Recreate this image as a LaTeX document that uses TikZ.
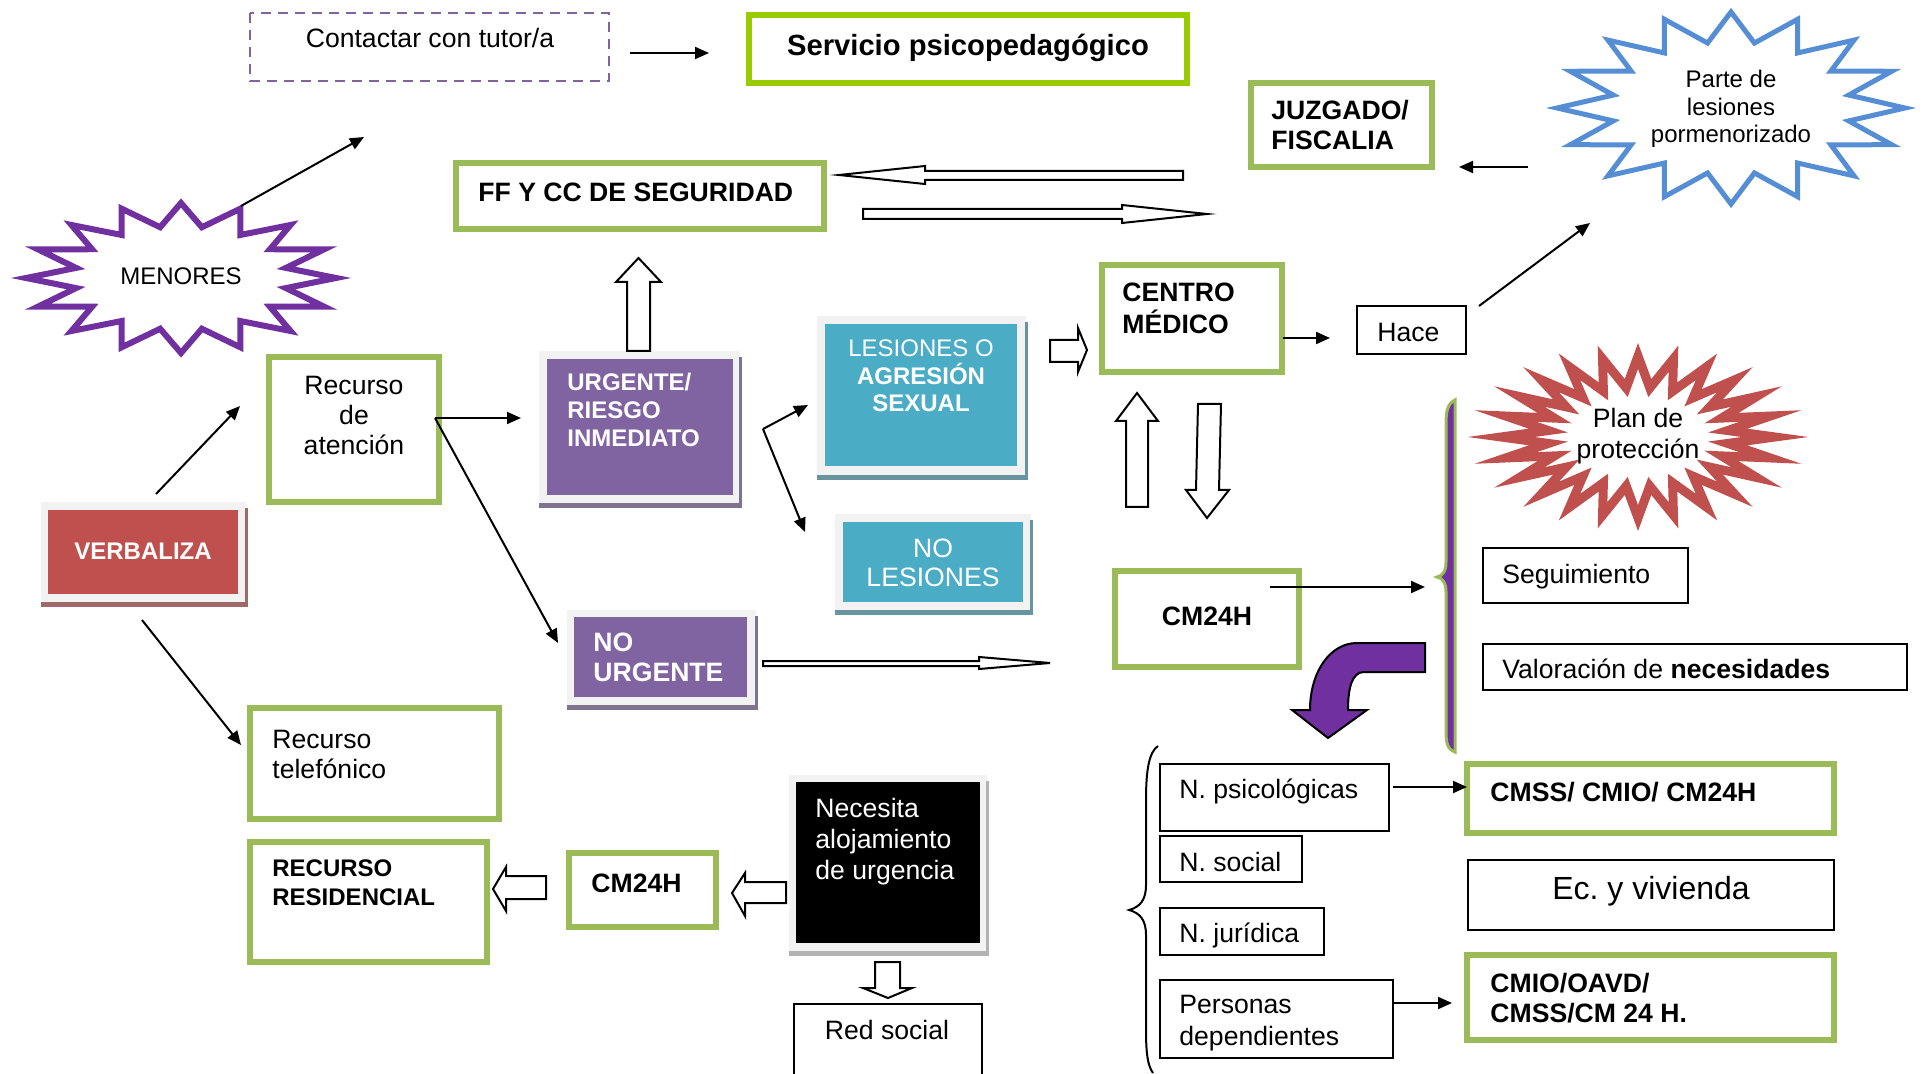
\documentclass[tikz,border=0pt]{standalone}
\usepackage{fontspec}
\setmainfont{Liberation Sans}
\usepackage{xcolor}
\usepackage{tikz}
\usetikzlibrary{arrows.meta}
\frenchspacing

\definecolor{olive}{HTML}{9BBB59}
\definecolor{lima}{HTML}{99CC00}
\definecolor{violeta}{HTML}{8064A2}
\definecolor{morado}{HTML}{7030A0}
\definecolor{turquesa}{HTML}{4BACC6}
\definecolor{rojo}{HTML}{C0504D}
\definecolor{azul}{HTML}{558ED5}

\begin{document}
\begin{tikzpicture}[x=0.5pt,y=0.5pt,yscale=-1,xscale=1,
  txt/.style={inner sep=0pt, align=left, font=\fontsize{13.3}{15}\selectfont},
  ctxt/.style={txt, align=center},
  btxt/.style={txt, font=\fontsize{13.3}{15}\selectfont\bfseries},
  stxt/.style={inner sep=0pt, align=center, font=\fontsize{12}{13.75}\selectfont},
  wtxt/.style={inner sep=0pt, align=left, text=white, font=\fontsize{12}{14}\selectfont\bfseries},
  gbox/.style={draw=olive, line width=3pt},
  nbox/.style={draw=black, line width=1pt},
  marco/.style={fill=black!5},
  sombra/.style={fill=#1!45!gray},
  flecha/.style={line width=1pt, -{Triangle[length=7pt,width=6pt]}},
  hueca/.style={draw=black, line width=1pt, fill=white}
]

\path[use as bounding box] (0,0) rectangle (1927,1074);
\clip (0,0) rectangle (1927,1074);

% estrellas
\draw[morado, line width=3pt, fill=white] plot[samples=33, domain=0:32, variable=\k] ({181+155*(1-0.31*mod(round(\k),2))*cos(90+11.25*\k)}, {278+75*(1-0.31*mod(round(\k),2))*sin(90+11.25*\k)}) -- cycle;

\draw[azul, line width=2.5pt, fill=white] plot[samples=33, domain=0:32, variable=\k] ({1731+174*(1-0.31*mod(round(\k),2))*cos(90+11.25*\k)}, {108+96*(1-0.31*mod(round(\k),2))*sin(90+11.25*\k)}) -- cycle;

\draw[rojo, line width=4.5pt, miter limit=30, fill=white] plot[samples=49, domain=0:48, variable=\k] ({1638+137*(1-0.34*mod(round(\k),2))*cos(90+7.5*\k)}, {437+81*(1-0.39*mod(round(\k),2))*sin(90+7.5*\k)}) -- cycle;

% cajas con marco
\fill[marco] (41,502) rectangle (246,603);
\fill[sombra=rojo] (41,602) rectangle (248,607);
\fill[sombra=rojo] (245,508) rectangle (248,607);
\fill[rojo] (48,510) rectangle (238,594);

\fill[marco] (539,351) rectangle (740,504);
\fill[sombra=violeta] (539,503) rectangle (742,508);
\fill[sombra=violeta] (739,357) rectangle (742,508);
\fill[violeta] (547,359) rectangle (733,495);

\fill[marco] (817,316) rectangle (1026,476);
\fill[sombra=turquesa] (817,475) rectangle (1028,480);
\fill[sombra=turquesa] (1025,322) rectangle (1028,480);
\fill[turquesa] (825,324) rectangle (1017,466);

\fill[marco] (835,514) rectangle (1031,611);
\fill[sombra=turquesa] (835,610) rectangle (1033,615);
\fill[sombra=turquesa] (1030,520) rectangle (1033,615);
\fill[turquesa] (843,522) rectangle (1023,602);

\fill[marco] (567,610) rectangle (756,706);
\fill[sombra=violeta] (567,705) rectangle (758,710);
\fill[sombra=violeta] (755,616) rectangle (758,710);
\fill[violeta] (574,617) rectangle (747,697);

\fill[marco] (789,775) rectangle (987,952);
\fill[black!30] (789,951) rectangle (989,956);
\fill[black!30] (986,781) rectangle (989,956);
\fill[black] (796,782) rectangle (980,943);

% cajas
\draw[violeta, line width=1.3pt, dash pattern=on 5pt off 3.5pt] (250,13) rectangle (609,81);
\draw[gbox, draw=lima] (749,15) rectangle (1187,83);
\draw[gbox] (456,163) rectangle (824,229);
\draw[gbox] (1251,83) rectangle (1432,167);
\draw[gbox] (269,357) rectangle (439,502);
\draw[gbox] (1102,265) rectangle (1282,372);
\draw[gbox] (1115,571) rectangle (1299,667);
\draw[gbox] (1467,764) rectangle (1834,833);
\draw[gbox] (1467,955) rectangle (1834,1040);
\draw[gbox] (250,708) rectangle (499,819);
\draw[gbox] (250,842) rectangle (487,962);
\draw[gbox] (569,853) rectangle (716,927);

\draw[nbox] (1357,306) rectangle (1466,354);
\draw[nbox] (1483,548) rectangle (1688,603);
\draw[nbox] (1483,644) rectangle (1907,690);
\draw[nbox] (1160,764) rectangle (1389,831);
\draw[nbox] (1160,836) rectangle (1302,882);
\draw[nbox] (1160,908) rectangle (1324,955);
\draw[nbox] (1160,980) rectangle (1393,1058);
\draw[nbox] (1468,860) rectangle (1834,930);
\draw[nbox] (794,1004) rectangle (982,1090);

% textos
\node[ctxt] (contactar) at (430,38) {Contactar con tutor/a};
\node[btxt, font=\fontsize{14.6}{17}\selectfont\bfseries] (servicio) at (968,48) {Servicio psicopedagógico};
\node[btxt, anchor=west] (fuerzas) at (478,192) {FF Y CC DE SEGURIDAD};
\node[btxt, anchor=west] (juzgado) at (1271,125) {JUZGADO/\\FISCALIA};
\node[stxt] (parte) at (1731,109) {Parte de\\lesiones\\pormenorizado};
\node[stxt] (menores) at (181,276) {MENORES};
\node[ctxt] (recurso) at (354,415) {Recurso\\de\\atención};
\node[wtxt] (verbaliza) at (143,551) {VERBALIZA};
\node[wtxt, anchor=west] (urgente) at (567,410) {URGENTE/\\RIESGO\\INMEDIATO};
\node[wtxt, align=center, font=\fontsize{12}{13.75}\selectfont] (lesiones) at (921,376) {LESIONES O\\\textbf{AGRESIÓN}\\\textbf{SEXUAL}};
\node[wtxt, align=center, font=\fontsize{13.3}{14.5}\selectfont] (nolesiones) at (933,563) {NO\\LESIONES};
\node[wtxt, anchor=west, font=\fontsize{13.3}{15}\selectfont\bfseries] (nourgente) at (593,657) {NO\\URGENTE};
\node[btxt, anchor=west, font=\fontsize{13.3}{16}\selectfont\bfseries] (centro) at (1122,308) {CENTRO\\MÉDICO};
\node[txt, anchor=west] (hace) at (1377,332) {Hace};
\node[ctxt, font=\fontsize{13.3}{15.5}\selectfont] (plan) at (1638,436) {Plan de\\protección};
\node[btxt] (cm24h) at (1207,616) {CM24H};
\node[txt, anchor=west] (seguimiento) at (1502,577) {Seguimiento};
\node[txt, anchor=west] (valoracion) at (1502,669) {Valoración de \textbf{necesidades}};
\node[txt, anchor=west] (psico) at (1179,791) {N. psicológicas};
\node[txt, anchor=west] (social) at (1179,862) {N. social};
\node[txt, anchor=west] (juridica) at (1179,935) {N. jurídica};
\node[txt, anchor=west, font=\fontsize{13.3}{16}\selectfont] (dependientes) at (1179,1023) {Personas\\dependientes};
\node[btxt, anchor=west] (cmss) at (1490,792) {CMSS/ CMIO/ CM24H};
\node[ctxt, font=\fontsize{16}{19}\selectfont] (vivienda) at (1651,891) {Ec. y vivienda};
\node[btxt, anchor=west] (cmio) at (1490,998) {CMIO/OAVD/\\CMSS/CM 24 H.};
\node[txt, anchor=west] (telefonico) at (272,754) {Recurso\\telefónico};
\node[btxt, anchor=west, font=\fontsize{12}{14.5}\selectfont\bfseries] (residencial) at (272,883) {RECURSO\\RESIDENCIAL};
\node[btxt, anchor=west] (cm24hb) at (591,883) {CM24H};
\node[txt, anchor=west, text=white, font=\fontsize{13.3}{15.5}\selectfont] (necesita) at (815,842) {Necesita\\alojamiento\\de urgencia};
\node[ctxt] (redsocial) at (887,1030) {Red social};

% flechas
\coordinate (t1) at (630,53);
\coordinate (t2) at (709,53);
\coordinate (m1) at (241,206);
\coordinate (m2) at (364,137);
\coordinate (v1) at (156,494);
\coordinate (v2) at (240,406);
\coordinate (v3) at (142,620);
\coordinate (v4) at (241,745);
\coordinate (r1) at (435,418);
\coordinate (r2) at (521,418);
\coordinate (r3) at (558,643);
\coordinate (u1) at (763,429);
\coordinate (u2) at (808,405);
\coordinate (u3) at (805,532);
\coordinate (c1) at (1283,338);
\coordinate (c2) at (1330,338);
\coordinate (h1) at (1479,306);
\coordinate (h2) at (1590,223);
\coordinate (p1) at (1528,167);
\coordinate (p2) at (1459,167);
\coordinate (k1) at (1270,587);
\coordinate (k2) at (1425,587);
\coordinate (n1) at (1393,787);
\coordinate (n2) at (1467,787);
\coordinate (d1) at (1394,1003);
\coordinate (d2) at (1452,1003);

\draw[flecha] (t1) -- (t2);
\draw[flecha] (m1) -- (m2);
\draw[flecha] (v1) -- (v2);
\draw[flecha] (v3) -- (v4);
\draw[flecha] (r1) -- (r2);
\draw[flecha] (r1) -- (r3);
\draw[flecha] (u1) -- (u2);
\draw[flecha] (u1) -- (u3);
\draw[flecha] (c1) -- (c2);
\draw[flecha] (h1) -- (h2);
\draw[flecha] (p1) -- (p2);
\draw[flecha] (k1) -- (k2);
\draw[flecha] (n1) -- (n2);
\draw[flecha] (d1) -- (d2);

% flechas huecas
\draw[hueca] (627,351) -- (627,282) -- (616,282) -- (638.5,258) -- (661,282) -- (650,282) -- (650,351) -- cycle;
\draw[hueca] (1183,171) -- (925,171) -- (925,166) -- (839,175) -- (925,184) -- (925,180) -- (1183,180) -- cycle;
\draw[hueca] (863,209) -- (1122,209) -- (1122,205) -- (1207,214) -- (1122,223) -- (1122,219) -- (863,219) -- cycle;
\draw[hueca] (763,661) -- (979,661) -- (979,657) -- (1050,663) -- (979,669) -- (979,666) -- (763,666) -- cycle;
\draw[hueca] (1050,340) -- (1078,340) -- (1078,328) -- (1087,350) -- (1078,372) -- (1078,362) -- (1050,362) -- cycle;
\draw[hueca] (1126,507) -- (1126,421) -- (1116,421) -- (1137,393) -- (1158,421) -- (1148,421) -- (1148,507) -- cycle;
\draw[hueca] (1198,404) -- (1221,404) -- (1219,490) -- (1229,490) -- (1207,518) -- (1186,490) -- (1196,490) -- cycle;
\draw[hueca] (546,876) -- (506,876) -- (506,867) -- (493,889) -- (506,911) -- (506,899) -- (546,899) -- cycle;
\draw[hueca] (786,882) -- (745,882) -- (745,873) -- (732,893) -- (745,916) -- (745,903) -- (786,903) -- cycle;
\draw[hueca] (875,962) -- (900,962) -- (900,988) -- (912,988) -- (888,998) -- (863,988) -- (875,988) -- cycle;

% flecha curva
\draw[line width=1pt, fill=morado] (1425,643) -- (1357,643) .. controls (1330,643) and (1310,672) .. (1310,710) -- (1292,710) -- (1328,738) -- (1367,710) -- (1348,710) .. controls (1348,688) and (1352,672) .. (1364,672) -- (1425,672) -- cycle;

% llaves
\draw[olive, line width=1.5pt, fill=morado] (1455,400) .. controls (1447,404) and (1446,412) .. (1446,425) -- (1446,562) .. controls (1446,572) and (1442,576) .. (1437,577) .. controls (1442,578) and (1446,582) .. (1446,592) -- (1446,730) .. controls (1446,743) and (1447,749) .. (1455,752) -- cycle;
\draw[line width=1pt] (1158,746) .. controls (1149,752) and (1146,770) .. (1146,800) -- (1146,885) .. controls (1146,900) and (1140,907) .. (1129,910) .. controls (1140,913) and (1146,920) .. (1146,935) -- (1146,1030) .. controls (1146,1055) and (1148,1066) .. (1153,1073);

\end{tikzpicture}
\end{document}
